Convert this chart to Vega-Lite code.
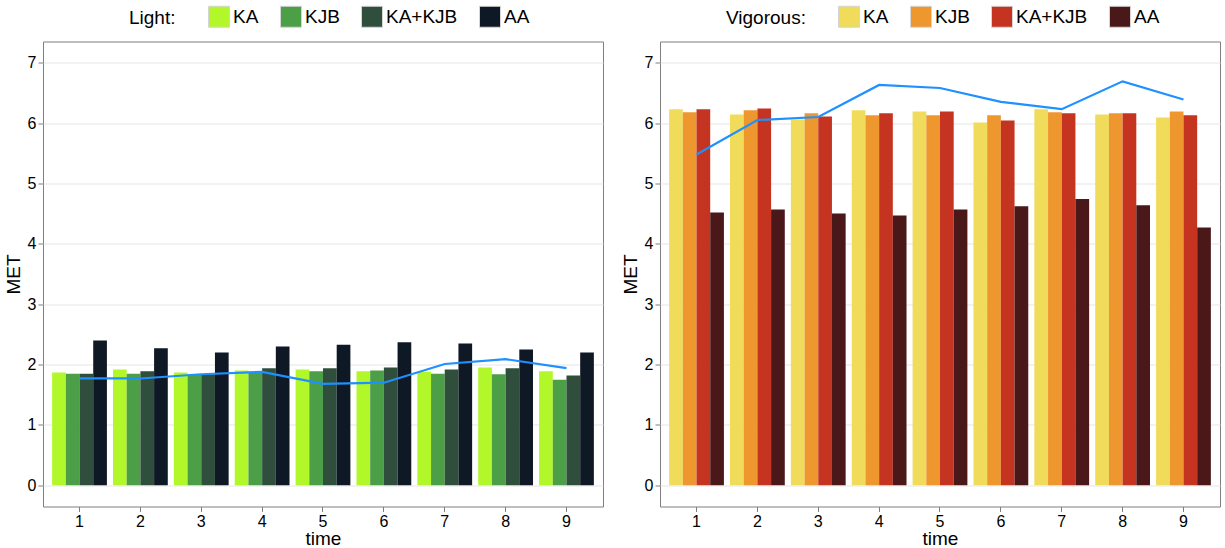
{
  "$schema": "https://vega.github.io/schema/vega-lite/v6.json",
  "padding": {"left": 3, "top": 4.5, "right": 2, "bottom": 0},
  "background": "white",
  "datasets": {
    "lightBars": [
      {"time": 1, "group": "KA", "MET": 1.87}, {"time": 1, "group": "KJB", "MET": 1.85}, {"time": 1, "group": "KA+KJB", "MET": 1.85}, {"time": 1, "group": "AA", "MET": 2.40},
      {"time": 2, "group": "KA", "MET": 1.92}, {"time": 2, "group": "KJB", "MET": 1.85}, {"time": 2, "group": "KA+KJB", "MET": 1.89}, {"time": 2, "group": "AA", "MET": 2.27},
      {"time": 3, "group": "KA", "MET": 1.87}, {"time": 3, "group": "KJB", "MET": 1.83}, {"time": 3, "group": "KA+KJB", "MET": 1.84}, {"time": 3, "group": "AA", "MET": 2.20},
      {"time": 4, "group": "KA", "MET": 1.90}, {"time": 4, "group": "KJB", "MET": 1.88}, {"time": 4, "group": "KA+KJB", "MET": 1.94}, {"time": 4, "group": "AA", "MET": 2.30},
      {"time": 5, "group": "KA", "MET": 1.92}, {"time": 5, "group": "KJB", "MET": 1.89}, {"time": 5, "group": "KA+KJB", "MET": 1.94}, {"time": 5, "group": "AA", "MET": 2.33},
      {"time": 6, "group": "KA", "MET": 1.89}, {"time": 6, "group": "KJB", "MET": 1.90}, {"time": 6, "group": "KA+KJB", "MET": 1.95}, {"time": 6, "group": "AA", "MET": 2.37},
      {"time": 7, "group": "KA", "MET": 1.88}, {"time": 7, "group": "KJB", "MET": 1.85}, {"time": 7, "group": "KA+KJB", "MET": 1.92}, {"time": 7, "group": "AA", "MET": 2.35},
      {"time": 8, "group": "KA", "MET": 1.95}, {"time": 8, "group": "KJB", "MET": 1.84}, {"time": 8, "group": "KA+KJB", "MET": 1.94}, {"time": 8, "group": "AA", "MET": 2.25},
      {"time": 9, "group": "KA", "MET": 1.89}, {"time": 9, "group": "KJB", "MET": 1.75}, {"time": 9, "group": "KA+KJB", "MET": 1.82}, {"time": 9, "group": "AA", "MET": 2.20}
    ],
    "lightLine": [
      {"time": 1, "MET": 1.77}, {"time": 2, "MET": 1.77}, {"time": 3, "MET": 1.84}, {"time": 4, "MET": 1.88}, {"time": 5, "MET": 1.68},
      {"time": 6, "MET": 1.70}, {"time": 7, "MET": 2.01}, {"time": 8, "MET": 2.09}, {"time": 9, "MET": 1.94}
    ],
    "vigBars": [
      {"time": 1, "group": "KA", "MET": 6.23}, {"time": 1, "group": "KJB", "MET": 6.18}, {"time": 1, "group": "KA+KJB", "MET": 6.23}, {"time": 1, "group": "AA", "MET": 4.52},
      {"time": 2, "group": "KA", "MET": 6.14}, {"time": 2, "group": "KJB", "MET": 6.21}, {"time": 2, "group": "KA+KJB", "MET": 6.24}, {"time": 2, "group": "AA", "MET": 4.57},
      {"time": 3, "group": "KA", "MET": 6.06}, {"time": 3, "group": "KJB", "MET": 6.16}, {"time": 3, "group": "KA+KJB", "MET": 6.11}, {"time": 3, "group": "AA", "MET": 4.50},
      {"time": 4, "group": "KA", "MET": 6.21}, {"time": 4, "group": "KJB", "MET": 6.13}, {"time": 4, "group": "KA+KJB", "MET": 6.16}, {"time": 4, "group": "AA", "MET": 4.47},
      {"time": 5, "group": "KA", "MET": 6.19}, {"time": 5, "group": "KJB", "MET": 6.13}, {"time": 5, "group": "KA+KJB", "MET": 6.19}, {"time": 5, "group": "AA", "MET": 4.57},
      {"time": 6, "group": "KA", "MET": 6.01}, {"time": 6, "group": "KJB", "MET": 6.13}, {"time": 6, "group": "KA+KJB", "MET": 6.04}, {"time": 6, "group": "AA", "MET": 4.62},
      {"time": 7, "group": "KA", "MET": 6.23}, {"time": 7, "group": "KJB", "MET": 6.18}, {"time": 7, "group": "KA+KJB", "MET": 6.16}, {"time": 7, "group": "AA", "MET": 4.74},
      {"time": 8, "group": "KA", "MET": 6.14}, {"time": 8, "group": "KJB", "MET": 6.16}, {"time": 8, "group": "KA+KJB", "MET": 6.16}, {"time": 8, "group": "AA", "MET": 4.64},
      {"time": 9, "group": "KA", "MET": 6.09}, {"time": 9, "group": "KJB", "MET": 6.19}, {"time": 9, "group": "KA+KJB", "MET": 6.13}, {"time": 9, "group": "AA", "MET": 4.27}
    ],
    "vigLine": [
      {"time": 1, "MET": 5.48}, {"time": 2, "MET": 6.05}, {"time": 3, "MET": 6.10}, {"time": 4, "MET": 6.63}, {"time": 5, "MET": 6.58},
      {"time": 6, "MET": 6.35}, {"time": 7, "MET": 6.23}, {"time": 8, "MET": 6.69}, {"time": 9, "MET": 6.39}
    ]
  },
  "hconcat": [
    {
      "width": 560,
      "height": 465,
      "layer": [
        {
          "data": {"name": "lightBars"},
          "mark": {"type": "bar"},
          "encoding": {
            "x": {"field": "time", "type": "ordinal", "scale": {"paddingInner": 0.1, "paddingOuter": 0.15},
                  "axis": {"title": "time", "labelAngle": 0, "bandPosition": 0.5, "labelPadding": 2, "titlePadding": 0}},
            "xOffset": {"field": "group", "type": "nominal", "sort": ["KA", "KJB", "KA+KJB", "AA"], "scale": {"paddingInner": 0, "paddingOuter": 0}},
            "y": {"field": "MET", "type": "quantitative", "scale": {"domain": [-0.35, 7.35], "nice": false, "zero": false},
                  "axis": {"title": "MET", "format": "d", "values": [0, 0.5, 1, 1.5, 2, 2.5, 3, 3.5, 4, 4.5, 5, 5.5, 6, 6.5, 7],
                           "labelExpr": "datum.value % 1 ? '' : datum.label",
                           "gridColor": {"condition": {"test": "datum.value % 1 !== 0", "value": "#f3f3f3"}, "value": "#e5e5e5"},
                           "tickOpacity": {"condition": {"test": "datum.value % 1 !== 0", "value": 0}, "value": 1},
                           "labelPadding": 2, "titlePadding": 4}},
            "color": {"field": "group", "type": "nominal", "sort": ["KA", "KJB", "KA+KJB", "AA"],
                      "scale": {"domain": ["KA", "KJB", "KA+KJB", "AA"], "range": ["#b2f72a", "#4c9e47", "#2f4f3c", "#0f1925"]},
                      "legend": {"title": "Light:", "orient": "none", "legendX": 86, "legendY": -36, "direction": "horizontal", "titleOrient": "left"}}
          }
        },
        {
          "data": {"name": "lightLine"},
          "mark": {"type": "line", "color": "#1e90ff", "strokeWidth": 2.2},
          "encoding": {
            "x": {"field": "time", "type": "ordinal"},
            "y": {"field": "MET", "type": "quantitative"}
          }
        }
      ]
    },
    {
      "width": 560,
      "height": 465,
      "layer": [
        {
          "data": {"name": "vigBars"},
          "mark": {"type": "bar"},
          "encoding": {
            "x": {"field": "time", "type": "ordinal", "scale": {"paddingInner": 0.1, "paddingOuter": 0.15},
                  "axis": {"title": "time", "labelAngle": 0, "bandPosition": 0.5, "labelPadding": 2, "titlePadding": 0}},
            "xOffset": {"field": "group", "type": "nominal", "sort": ["KA", "KJB", "KA+KJB", "AA"], "scale": {"paddingInner": 0, "paddingOuter": 0}},
            "y": {"field": "MET", "type": "quantitative", "scale": {"domain": [-0.35, 7.35], "nice": false, "zero": false},
                  "axis": {"title": "MET", "format": "d", "values": [0, 0.5, 1, 1.5, 2, 2.5, 3, 3.5, 4, 4.5, 5, 5.5, 6, 6.5, 7],
                           "labelExpr": "datum.value % 1 ? '' : datum.label",
                           "gridColor": {"condition": {"test": "datum.value % 1 !== 0", "value": "#f3f3f3"}, "value": "#e5e5e5"},
                           "tickOpacity": {"condition": {"test": "datum.value % 1 !== 0", "value": 0}, "value": 1},
                           "labelPadding": 2, "titlePadding": 4}},
            "color": {"field": "group", "type": "nominal", "sort": ["KA", "KJB", "KA+KJB", "AA"],
                      "scale": {"domain": ["KA", "KJB", "KA+KJB", "AA"], "range": ["#f0dc5a", "#ef972f", "#c43421", "#4b1819"]},
                      "legend": {"title": "Vigorous:", "orient": "none", "legendX": 66, "legendY": -36, "direction": "horizontal", "titleOrient": "left"}}
          }
        },
        {
          "data": {"name": "vigLine"},
          "mark": {"type": "line", "color": "#1e90ff", "strokeWidth": 2.2},
          "encoding": {
            "x": {"field": "time", "type": "ordinal"},
            "y": {"field": "MET", "type": "quantitative"}
          }
        }
      ]
    }
  ],
  "resolve": {"scale": {"color": "independent"}},
  "config": {
    "font": "Liberation Sans",
    "concat": {"spacing": 16},
    "view": {"stroke": "#7f7f7f", "strokeWidth": 1},
    "axis": {"domain": false, "tickColor": "#7f7f7f", "tickSize": 5, "labelFontSize": 16, "labelColor": "#000000",
             "titleFontSize": 19, "titleFontWeight": "normal", "titleColor": "#000000", "gridColor": "#e5e5e5", "gridWidth": 1},
    "legend": {"symbolType": "square", "symbolSize": 441, "symbolStrokeColor": "#d5d5d5", "symbolStrokeWidth": 1, "symbolOpacity": 1,
               "labelFontSize": 19, "labelColor": "#000000", "labelOffset": 3, "columnPadding": 19,
               "titleFontSize": 19, "titleFontWeight": "normal", "titleColor": "#000000", "titlePadding": 32}
  }
}
